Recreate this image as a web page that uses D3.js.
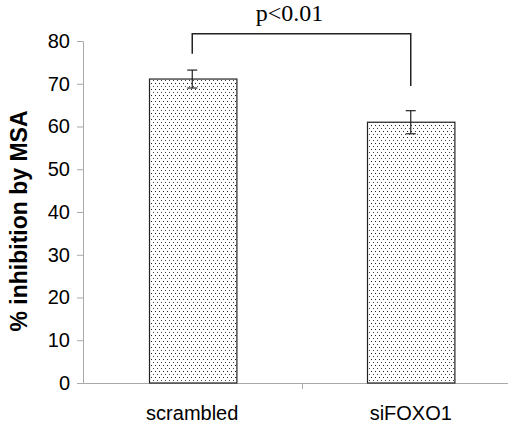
<!DOCTYPE html>
<html>
<head>
<meta charset="utf-8">
<script src="https://cdn.jsdelivr.net/npm/d3@7"></script>
<style>
  body { margin: 0; background: #fff; }
  svg { display: block; }
</style>
</head>
<body>
<div id="chart"></div>
<script>
// chart data
var categories = ["scrambled", "siFOXO1"];
var values = [71.1, 61.0];
var errors = [2.1, 2.7];
var yTicks = [0, 10, 20, 30, 40, 50, 60, 70, 80];
var sigLabel = "p<0.01";
// bracket: top value, and the values where each leg ends
var bracketTop = 81.7;
var bracketLegs = [77, 69.5];

var svgWidth = 508;
var svgHeight = 423;

var margin = { top: 41, right: -12, bottom: 40, left: 83 };
var chartWidth = svgWidth - margin.left - margin.right;
var chartHeight = svgHeight - margin.top - margin.bottom;

var svg = d3.select("#chart")
    .append("svg")
    .attr("width", svgWidth)
    .attr("height", svgHeight);

// dotted fill pattern
var pattern = svg.append("defs")
    .append("pattern")
    .attr("id", "dots")
    .attr("patternUnits", "userSpaceOnUse")
    .attr("width", 4)
    .attr("height", 6);
pattern.append("rect").attr("width", 4).attr("height", 6).attr("fill", "#fff");
pattern.append("rect").attr("x", 0).attr("y", 0).attr("width", 1).attr("height", 1).attr("fill", "#222");
pattern.append("rect").attr("x", 2).attr("y", 3).attr("width", 1).attr("height", 1).attr("fill", "#444");

var chartGroup = svg.append("g")
    .attr("transform", `translate(${margin.left}, ${margin.top})`);

var xScale = d3.scaleBand()
    .domain(categories)
    .range([0, chartWidth])
    .paddingInner(0.6)
    .paddingOuter(0.3);

var yScale = d3.scaleLinear()
    .domain([0, 80])
    .range([chartHeight, 0]);

// y axis
var leftAxis = d3.axisLeft(yScale)
    .tickValues(yTicks)
    .tickSize(6)
    .tickPadding(7);

var yAxis = chartGroup.append("g").call(leftAxis);
yAxis.select(".domain").attr("stroke", "#aaa").attr("d", `M-6,0.5H0.5V${chartHeight}`);
yAxis.selectAll(".tick line").attr("stroke", "#aaa");
yAxis.selectAll("text")
    .attr("font-family", "Liberation Sans, Arial, sans-serif")
    .attr("font-size", "20px")
    .attr("fill", "#000");

// x axis with ticks between categories
chartGroup.append("line")
    .attr("x1", 0).attr("x2", chartWidth)
    .attr("y1", chartHeight + 0.5).attr("y2", chartHeight + 0.5)
    .attr("stroke", "#aaa");

var boundaries = [(xScale(categories[0]) + xScale(categories[1]) + xScale.bandwidth()) / 2];
chartGroup.selectAll(".xtick")
    .data(boundaries)
    .enter()
    .append("line")
    .attr("x1", d => Math.round(d) + 0.5)
    .attr("x2", d => Math.round(d) + 0.5)
    .attr("y1", chartHeight)
    .attr("y2", chartHeight + 6)
    .attr("stroke", "#aaa");

chartGroup.selectAll(".xlabel")
    .data(categories)
    .enter()
    .append("text")
    .attr("x", d => xScale(d) + xScale.bandwidth() / 2)
    .attr("y", chartHeight + 37)
    .attr("text-anchor", "middle")
    .attr("font-family", "Liberation Sans, Arial, sans-serif")
    .attr("font-size", "20px")
    .text(d => d);

// bars
chartGroup.selectAll(".bar")
    .data(values)
    .enter()
    .append("rect")
    .attr("x", (d, i) => Math.round(xScale(categories[i])) + 0.5)
    .attr("y", d => yScale(d))
    .attr("width", xScale.bandwidth())
    .attr("height", d => chartHeight - yScale(d))
    .attr("fill", "url(#dots)")
    .attr("stroke", "#222")
    .attr("stroke-width", 1.2);

// error bars
var errGroup = chartGroup.selectAll(".err")
    .data(values)
    .enter()
    .append("g")
    .attr("stroke", "#222")
    .attr("stroke-width", 1.2);
errGroup.append("line")
    .attr("x1", (d, i) => xScale(categories[i]) + xScale.bandwidth() / 2)
    .attr("x2", (d, i) => xScale(categories[i]) + xScale.bandwidth() / 2)
    .attr("y1", (d, i) => yScale(d + errors[i]))
    .attr("y2", (d, i) => yScale(d - errors[i]));
[1, -1].forEach(function (sign) {
    errGroup.append("line")
        .attr("x1", (d, i) => xScale(categories[i]) + xScale.bandwidth() / 2 - 5)
        .attr("x2", (d, i) => xScale(categories[i]) + xScale.bandwidth() / 2 + 5)
        .attr("y1", (d, i) => yScale(d + sign * errors[i]))
        .attr("y2", (d, i) => yScale(d + sign * errors[i]));
});

// significance bracket
var cx = categories.map(c => xScale(c) + xScale.bandwidth() / 2);
chartGroup.append("path")
    .attr("d", `M${cx[0]},${yScale(bracketLegs[0])}V${yScale(bracketTop)}H${cx[1]}V${yScale(bracketLegs[1])}`)
    .attr("fill", "none")
    .attr("stroke", "#222")
    .attr("stroke-width", 1.5);

chartGroup.append("text")
    .attr("x", (cx[0] + cx[1]) / 2 - 12)
    .attr("y", yScale(bracketTop) - 13)
    .attr("text-anchor", "middle")
    .attr("font-family", "Liberation Serif, Times New Roman, serif")
    .attr("font-size", "24px")
    .text(sigLabel);

// y axis label
svg.append("text")
    .attr("transform", `translate(27, ${margin.top + chartHeight / 2 + 9}) rotate(-90)`)
    .attr("text-anchor", "middle")
    .attr("font-family", "Liberation Sans, Arial, sans-serif")
    .attr("font-weight", "bold")
    .attr("font-size", "23px")
    .text("% inhibition by MSA");
</script>
</body>
</html>
